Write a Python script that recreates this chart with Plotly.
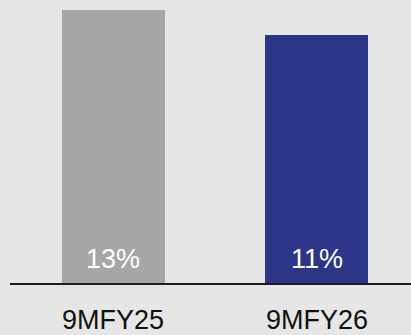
import plotly.graph_objects as go

categories = ["9MFY25", "9MFY26"]
values = [12.6, 11.45]
value_labels = ["13%", "11%"]
bar_colors = ["#a6a6a6", "#2d3589"]

fig = go.Figure()
fig.add_trace(go.Bar(
    x=[0, 1], y=values, width=0.505,
    marker=dict(color=bar_colors, line=dict(width=0)),
    hoverinfo="skip",
))

for i, lab in enumerate(value_labels):
    fig.add_annotation(x=i, y=0, xref="x", yref="y", text=lab, showarrow=False,
                       yanchor="bottom", yshift=7,
                       font=dict(family="Liberation Sans, Arial", size=27, color="#ffffff"))

fig.update_layout(
    width=411, height=335,
    margin=dict(l=10, r=0, t=0, b=45),
    paper_bgcolor="#e6e6e6", plot_bgcolor="#e6e6e6",
    showlegend=False,
    bargap=0,
    xaxis=dict(range=[-0.505, 1.461], tickvals=[0, 1], ticktext=categories,
               showline=True, linecolor="#1e1e1e", linewidth=2,
               showgrid=False, zeroline=False, ticks="", ticklabelstandoff=12,
               tickfont=dict(family="Liberation Sans, Arial", size=27, color="#111111")),
    yaxis=dict(range=[0, 13.05], visible=False, showgrid=False, zeroline=False),
)

fig.write_html("out.html")
